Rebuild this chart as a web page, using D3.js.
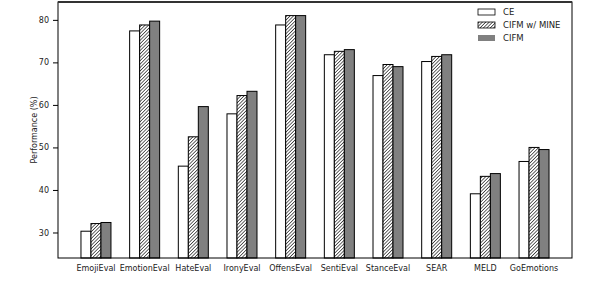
<!DOCTYPE html>
<html>
<head>
<meta charset="utf-8">
<script src="https://cdn.jsdelivr.net/npm/d3@7"></script>
<style>
  body { margin: 0; background: #fff; }
  text { font-family: "DejaVu Sans", sans-serif; fill: #222; }
</style>
</head>
<body>
<script>
'use strict';

// data
const categories = ["EmojiEval", "EmotionEval", "HateEval", "IronyEval", "OffensEval",
  "SentiEval", "StanceEval", "SEAR", "MELD", "GoEmotions"];
const seriesNames = ["CE", "CIFM w/ MINE", "CIFM"];
const ceValues = [30.3, 77.4, 45.6, 57.9, 78.8, 71.8, 66.9, 70.2, 39.1, 46.7];
const mineValues = [32.1, 78.8, 52.5, 62.2, 81.0, 72.6, 69.5, 71.4, 43.2, 50.0];
const cifmValues = [32.35, 79.7, 59.6, 63.2, 81.0, 73.0, 69.0, 71.8, 43.85, 49.5];
const yTicks = [30, 40, 50, 60, 70, 80];

(function() {
  const W = 606, H = 304;
  const plot = {left: 58, right: 572, top: 2, bottom: 258};

  const svg = d3.select('body').append('svg')
    .attr('width', W)
    .attr('height', H);

  // hatch pattern for the middle series
  const hs = 2.4;
  const defs = svg.append('defs');
  defs.append('pattern')
    .attr('id', 'hatch')
    .attr('patternUnits', 'userSpaceOnUse')
    .attr('width', hs)
    .attr('height', hs)
    .attr('patternTransform', 'rotate(45)')
    .call(p => {
      p.append('rect').attr('width', hs).attr('height', hs).attr('fill', '#fff');
      p.append('line').attr('x1', 0).attr('y1', 0).attr('x2', 0).attr('y2', hs)
        .attr('stroke', '#000').attr('stroke-width', 1.2);
    });

  const x = d3.scalePoint()
    .domain(categories)
    .range([plot.left, plot.right])
    .padding(0.78);

  const y = d3.scaleLinear()
    .domain([24, 84.2])
    .range([plot.bottom, plot.top]);

  const barW = 10;
  const series = [
    {name: seriesNames[0], values: ceValues, fill: '#fff'},
    {name: seriesNames[1], values: mineValues, fill: 'url(#hatch)'},
    {name: seriesNames[2], values: cifmValues, fill: '#808080'}
  ];

  // bars
  series.forEach((s, si) => {
    svg.append('g').selectAll('rect')
      .data(s.values)
      .enter()
      .append('rect')
      .attr('x', (d, i) => x(categories[i]) - 1.5 * barW + si * barW)
      .attr('y', d => y(d))
      .attr('width', barW)
      .attr('height', d => plot.bottom - y(d))
      .attr('fill', s.fill)
      .attr('stroke', '#000')
      .attr('stroke-width', 1);
  });

  // y axis
  const yAxis = d3.axisLeft(y).tickValues(yTicks).tickSize(5).tickPadding(4);
  svg.append('g')
    .attr('transform', 'translate(' + plot.left + ',0)')
    .call(yAxis)
    .call(g => g.select('.domain').remove())
    .selectAll('text')
    .style('font-size', '8px')
    .style('font-family', '"DejaVu Sans", sans-serif');

  // x labels
  svg.append('g').selectAll('text')
    .data(categories)
    .enter()
    .append('text')
    .attr('x', d => x(d))
    .attr('y', 271)
    .attr('text-anchor', 'middle')
    .style('font-size', '8px')
    .text(d => d);

  // frame
  svg.append('rect')
    .attr('x', plot.left)
    .attr('y', plot.top)
    .attr('width', plot.right - plot.left)
    .attr('height', plot.bottom - plot.top)
    .attr('fill', 'none')
    .attr('stroke', '#000')
    .attr('stroke-width', 1);
  svg.append('line')
    .attr('x1', plot.left).attr('x2', plot.right)
    .attr('y1', plot.top).attr('y2', plot.top)
    .attr('stroke', '#333').attr('stroke-width', 2);

  // y label
  svg.append('text')
    .attr('transform', 'translate(37,' + ((plot.top + plot.bottom) / 2) + ')rotate(-90)')
    .attr('text-anchor', 'middle')
    .style('font-size', '8px')
    .text('Performance (%)');

  // legend
  const legend = svg.append('g').attr('transform', 'translate(478,9)');
  series.forEach((s, i) => {
    legend.append('rect')
      .attr('x', 0)
      .attr('y', i * 13)
      .attr('width', 17)
      .attr('height', 6)
      .attr('fill', s.fill)
      .attr('stroke', i === 2 ? 'none' : '#000')
      .attr('stroke-width', 0.8);
    legend.append('text')
      .attr('x', 25)
      .attr('y', i * 13 + 6)
      .style('font-size', '8.5px')
      .text(s.name);
  });
})();
</script>
</body>
</html>
